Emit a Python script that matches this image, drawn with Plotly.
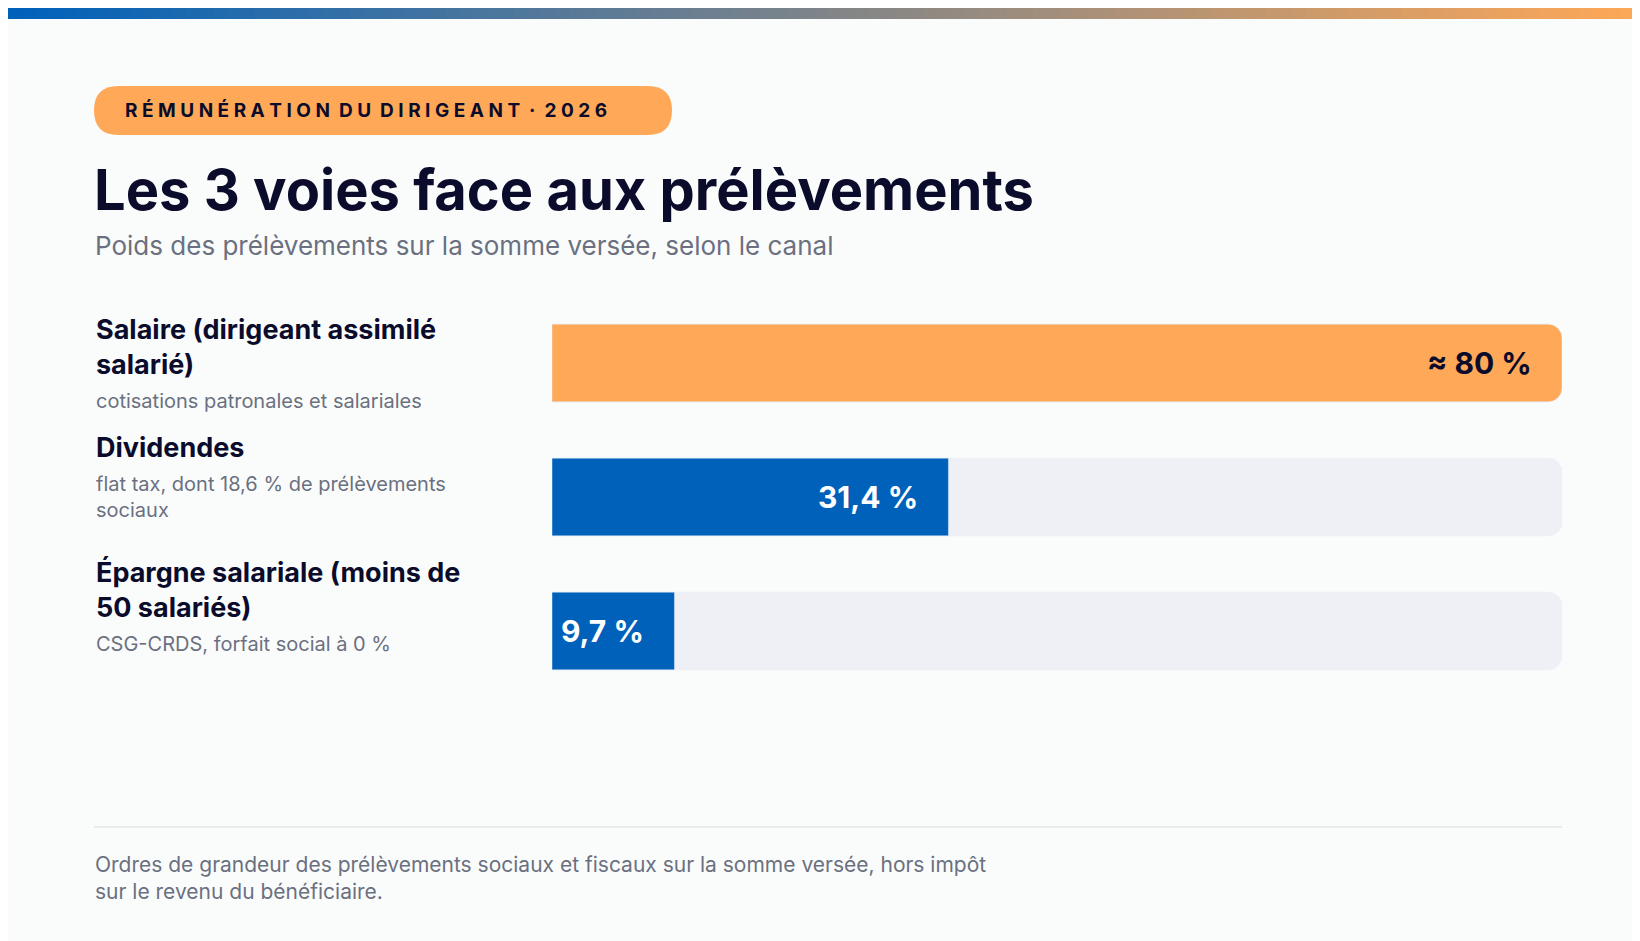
import plotly.graph_objects as go

categories = ["Salaire (dirigeant assimilé<br>salarié)", "Dividendes", "Épargne salariale (moins de<br>50 salariés)"]
subtitles = ["cotisations patronales et salariales", "flat tax, dont 18,6 % de prélèvements<br>sociaux", "CSG-CRDS, forfait social à 0 %"]
values = [80, 31.4, 9.7]
value_labels = ["≈ 80 %", "31,4 %", "9,7 %"]
scale_max = 80

W, H = 1640, 941
BG = "#FAFCFC"
ORANGE = "#FFA857"
BLUE = "#0061BA"
DARK = "#0B0B2B"
GREY = "#6B7080"

def px(x): return x / W
def py(y): return 1 - y / H

fig = go.Figure()
ys = list(range(len(categories)))
fig.add_trace(go.Bar(y=ys, x=[scale_max]*len(ys), orientation="h", marker=dict(color="#EEF0F6", cornerradius=14),
                     width=0.58, hoverinfo="skip", showlegend=False))
colors = [ORANGE, BLUE, BLUE]
fig.add_trace(go.Bar(y=ys, x=values, orientation="h", marker=dict(color=colors, cornerradius=14),
                     width=0.58, showlegend=False))

ann = []
for i, (v, lab) in enumerate(zip(values, value_labels)):
    ann.append(dict(x=v, y=i, xref="x", yref="y", text=f"<b>{lab}</b>", showarrow=False, xanchor="right", xshift=-28,
                    font=dict(family="Inter", size=30, color=DARK if i == 0 else "white")))

# left labels
label_tops = [303, 421, 546]
for i, (c, s) in enumerate(zip(categories, subtitles)):
    ann.append(dict(x=px(86), y=py(label_tops[i]), xref="paper", yref="paper", xanchor="left", yanchor="top",
                    align="left", showarrow=False, text=f"<b>{c}</b>",
                    font=dict(family="Inter", size=27, color=DARK)))
    nlines = c.count("<br>") + 1
    ann.append(dict(x=px(86), y=py(label_tops[i] + nlines * 35 + 6), xref="paper", yref="paper", xanchor="left", yanchor="top",
                    align="left", showarrow=False, text=s,
                    font=dict(family="Inter", size=20, color=GREY)))

ann.append(dict(x=px(115), y=py(102), xref="paper", yref="paper", xanchor="left", yanchor="middle", showarrow=False,
                text="<b>R É M U N É R A T I O N  D U  D I R I G E A N T  ·  2 0 2 6</b>",
                font=dict(family="Inter", size=19, color=DARK)))
ann.append(dict(x=px(84), y=py(182), xref="paper", yref="paper", xanchor="left", yanchor="middle", showarrow=False,
                text="<b>Les 3 voies face aux prélèvements</b>", font=dict(family="Inter", size=56, color=DARK)))
ann.append(dict(x=px(85), y=py(238), xref="paper", yref="paper", xanchor="left", yanchor="middle", showarrow=False,
                text="Poids des prélèvements sur la somme versée, selon le canal", font=dict(family="Inter", size=26, color=GREY)))
ann.append(dict(x=px(85), y=py(842), xref="paper", yref="paper", xanchor="left", yanchor="top", showarrow=False, align="left",
                text="Ordres de grandeur des prélèvements sociaux et fiscaux sur la somme versée, hors impôt<br>sur le revenu du bénéficiaire.",
                font=dict(family="Inter", size=21, color=GREY)))

shapes = []
# gradient top bar
n = 120
c1 = (0x00, 0x61, 0xBA); c2 = (0xFF, 0xA8, 0x57)
for k in range(n):
    t = k / (n - 1)
    col = "rgb(%d,%d,%d)" % tuple(round(a + (b - a) * t) for a, b in zip(c1, c2))
    shapes.append(dict(type="rect", xref="paper", yref="paper", x0=k / n, x1=(k + 1) / n + 0.001,
                       y0=py(11), y1=1, line=dict(width=0), fillcolor=col, layer="below"))
# pill
x0, x1, y0, y1, r = 86, 664, 78, 127, 24.5
def P(x, y): return f"{px(x)},{py(y)}"
path = (f"M {P(x0+r,y0)} L {P(x1-r,y0)} Q {P(x1,y0)} {P(x1,y0+r)} Q {P(x1,y1)} {P(x1-r,y1)} "
        f"L {P(x0+r,y1)} Q {P(x0,y1)} {P(x0,y1-r)} Q {P(x0,y0)} {P(x0+r,y0)} Z")
shapes.append(dict(type="path", xref="paper", yref="paper", path=path, fillcolor=ORANGE, line=dict(width=0), layer="below"))
shapes.append(dict(type="line", xref="paper", yref="paper", x0=px(86), x1=px(1554), y0=py(819), y1=py(819),
                   line=dict(color="#E2E4EA", width=1.5)))

fig.update_layout(width=W, height=H, margin=dict(l=0, r=0, t=0, b=0), paper_bgcolor=BG, plot_bgcolor=BG,
                  barmode="overlay", annotations=ann, shapes=shapes,
                  xaxis=dict(domain=[px(544), px(1554)], range=[0, scale_max], visible=False, fixedrange=True),
                  yaxis=dict(domain=[py(690), py(288)], range=[2.5, -0.5], visible=False, fixedrange=True))
fig.write_html("out.html", config={"displayModeBar": False})
